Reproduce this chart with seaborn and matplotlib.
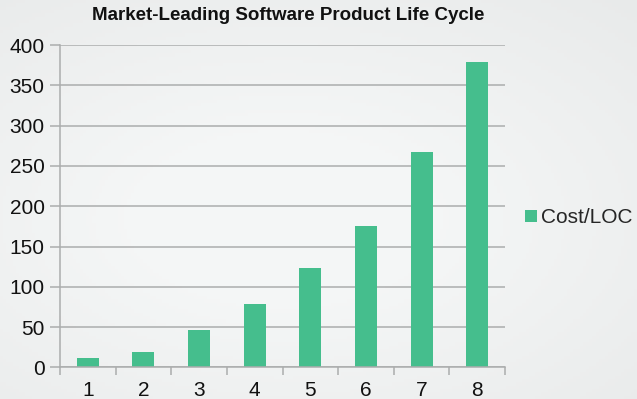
import matplotlib
matplotlib.use("Agg")
import matplotlib.pyplot as plt
import seaborn as sns
import numpy as np
import pandas as pd

# values
phases = ["1", "2", "3", "4", "5", "6", "7", "8"]
cost_per_loc = [12, 19, 47, 79, 123, 176, 267, 379]
series_name = "Cost/LOC"
y_ticks = [0, 50, 100, 150, 200, 250, 300, 350, 400]

bar_color = "#45BE8D"
bg_color = "#EEF0F0"
grid_color = "#ABADAD"

sns.set_theme(style="white")
plt.rcParams["font.family"] = ["Liberation Sans", "DejaVu Sans"]

df = pd.DataFrame({"phase": phases, "cost": cost_per_loc})

fig = plt.figure(figsize=(6.37, 3.99), dpi=100, facecolor=bg_color)

# soft slide-style background: lighter in the middle, greyer at the edges
bg_ax = fig.add_axes([0, 0, 1, 1], zorder=-10)
gx, gy = np.meshgrid(np.linspace(-1, 1, 200), np.linspace(-1, 1, 120))
shade = 0.97 - 0.045 * np.clip(np.hypot(gx * 0.9 + 0.1, gy - 0.1) - 0.4, 0, None)
bg_ax.imshow(np.dstack([shade - 0.01, shade - 0.003, shade - 0.003]),
             aspect="auto", extent=[0, 1, 0, 1], origin="upper")
bg_ax.axis("off")

ax = fig.add_axes([0.094, 0.079, 0.699, 0.808])
ax.set_facecolor("none")

sns.barplot(data=df, x="phase", y="cost", color=bar_color, width=0.4,
            saturation=1, linewidth=0, label=series_name, ax=ax)

ax.set_ylim(0, 400)
ax.set_yticks(y_ticks)
ax.set_xlim(-0.5, len(phases) - 0.5)
ax.yaxis.grid(True, color=grid_color, linewidth=1.1)
ax.set_axisbelow(True)
ax.set_xlabel("")
ax.set_ylabel("")

# tick marks sit between categories, labels at category centres
ax.set_xticks([i - 0.5 for i in range(len(phases) + 1)], minor=True)
ax.tick_params(axis="x", which="major", length=0, labelsize=15, pad=10, labelcolor="#111111")
ax.tick_params(axis="x", which="minor", length=6, width=1.1, color=grid_color, bottom=True)
ax.tick_params(axis="y", length=7, width=1.1, color=grid_color, labelsize=15,
               labelcolor="#111111", left=True, pad=4)

for s in ["top", "right"]:
    ax.spines[s].set_visible(False)
for s in ["left", "bottom"]:
    ax.spines[s].set_color(grid_color)
    ax.spines[s].set_linewidth(1.1)

fig.text(0.452, 0.962, "Market-Leading Software Product Life Cycle",
         ha="center", va="center", fontsize=13.5, fontweight="bold", color="#111111")

ax.legend(loc="center left", bbox_to_anchor=(1.045, 0.464), frameon=False,
          borderaxespad=0, borderpad=0, fontsize=15,
          handlelength=0.55, handleheight=0.55, handletextpad=0.2)

fig.savefig("out.png", dpi=100)
